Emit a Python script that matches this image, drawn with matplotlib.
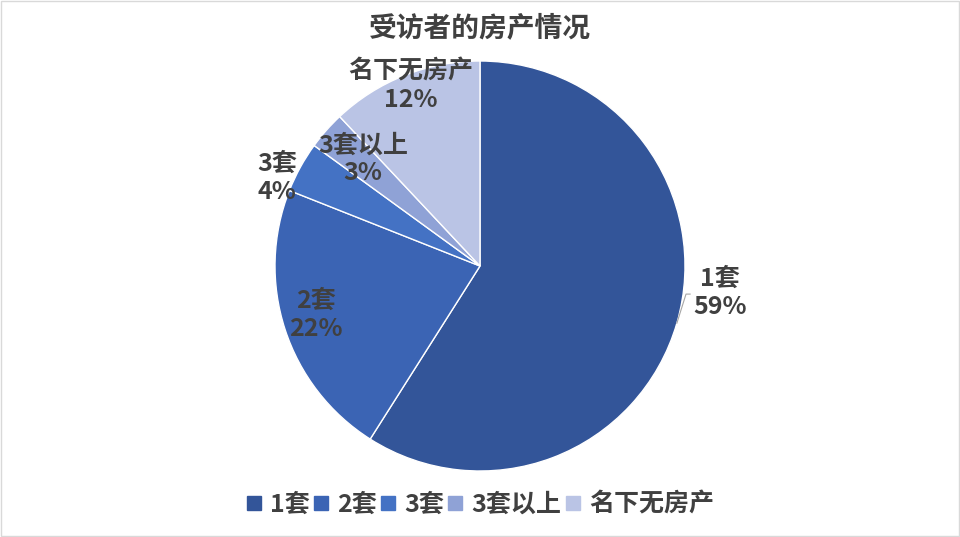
import matplotlib.pyplot as plt
from matplotlib.lines import Line2D
import numpy as np

plt.rcParams['font.family'] = ['Noto Sans CJK SC', 'DejaVu Sans']

# 数据
categories = ['1套', '2套', '3套', '3套以上', '名下无房产']
shares = [59, 22, 4, 3, 12]
colors = ['#335599', '#3B64B4', '#4472C4', '#8FA2D6', '#BAC4E5']

# 标签位置 (相对于饼图中心, 单位为半径)
label_pos = [(1.17, -0.13), (-0.80, -0.24), (-0.99, 0.43), (-0.57, 0.52), (-0.34, 0.88)]

R_PX = 205
fig = plt.figure(figsize=(9.6, 5.37), dpi=100)
ax = fig.add_axes([0, 0, 1, 1])

wedges, _ = ax.pie(shares, colors=colors, startangle=90, counterclock=False,
                   radius=1, wedgeprops=dict(edgecolor='white', linewidth=1))
ax.set_xlim(-480 / R_PX, 480 / R_PX)
ax.set_ylim(-271 / R_PX, 266 / R_PX)
ax.axis('off')

text_color = '#404040'
for (x, y), cat, v in zip(label_pos, categories, shares):
    ax.text(x, y, f'{cat}\n{v}%', ha='center', va='center', fontsize=18,
            fontweight='bold', color=text_color, linespacing=1.2)

# 1套 的引导线
ang = np.deg2rad(90 - shares[0] / 100 * 360 / 2)
ax.plot([np.cos(ang), 1.005, 1.025], [np.sin(ang), -0.137, -0.137],
        color='#A6A6A6', lw=0.8)

fig.text(0.5, 0.947, '受访者的房产情况', ha='center', va='center', fontsize=20,
         fontweight='bold', color=text_color)

handles = [Line2D([0], [0], marker='s', linestyle='none', markersize=10,
                  markerfacecolor=c, markeredgecolor=c) for c in colors]
leg = fig.legend(handles, categories, loc='center', bbox_to_anchor=(0.5, 0.06),
                 ncol=5, frameon=False, handlelength=0.6, handletextpad=0.35,
                 columnspacing=0.15, prop={'size': 18, 'weight': 'bold'})
for t in leg.get_texts():
    t.set_color(text_color)

# 外边框
fig.patches.append(plt.Rectangle((0.001, 0.001), 0.998, 0.997, transform=fig.transFigure,
                                 fill=False, edgecolor='#D9D9D9', lw=1))

plt.savefig('out.png', dpi=100)
